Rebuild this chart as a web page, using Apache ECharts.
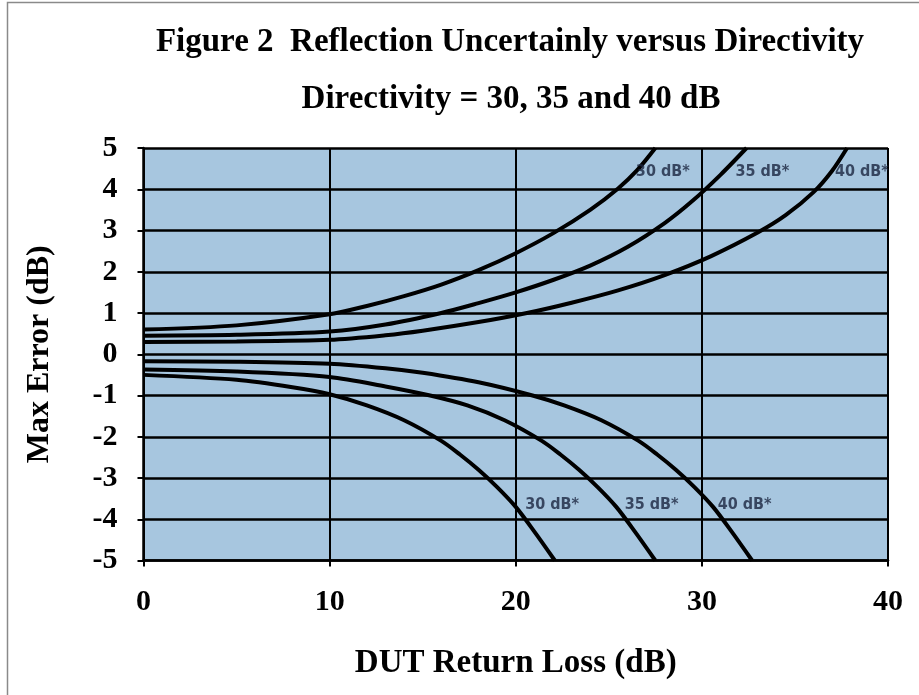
<!DOCTYPE html>
<html>
<head>
<meta charset="utf-8">
<script src="https://cdn.jsdelivr.net/npm/echarts@6/dist/echarts.min.js"></script>
<style>
  html, body { margin: 0; padding: 0; background: #fff; }
  #chart { width: 919px; height: 695px; }
</style>
</head>
<body>
<div id="chart"></div>
<script>
// curves: [DUT return loss, max error]
var upper30 = [[0, 0.6], [5, 0.7], [10, 0.97], [12, 1.17], [14, 1.41], [16, 1.69], [18, 2.04], [20, 2.45], [22, 2.93], [24, 3.5], [25.5, 4.02], [26.5, 4.45], [27.5, 5]];
var upper35 = [[0, 0.45], [5, 0.47], [10, 0.55], [13, 0.72], [16, 1], [18, 1.24], [20, 1.5], [22, 1.8], [24, 2.15], [26, 2.6], [28, 3.18], [29.5, 3.72], [31, 4.35], [32.4, 5]];
var upper40 = [[0, 0.3], [5, 0.31], [10, 0.35], [13, 0.46], [15, 0.57], [18, 0.78], [20.6, 1], [23, 1.25], [25.5, 1.55], [28, 1.92], [30.5, 2.38], [33, 2.95], [34.5, 3.37], [36, 3.93], [37, 4.45], [37.8, 5]];
var lower30 = [[0, -0.5], [5, -0.62], [8, -0.8], [10, -0.97], [12, -1.24], [14, -1.6], [16, -2.1], [17, -2.43], [18, -2.8], [19, -3.22], [20, -3.7], [21, -4.3], [22.1, -5]];
var lower35 = [[0, -0.37], [5, -0.42], [10, -0.55], [13, -0.78], [15.4, -1], [17.4, -1.24], [19.4, -1.6], [21.4, -2.1], [22.4, -2.43], [23.4, -2.8], [24.4, -3.22], [25.4, -3.7], [26.4, -4.3], [27.5, -5]];
var lower40 = [[0, -0.17], [5, -0.18], [10, -0.23], [13, -0.34], [15, -0.45], [18, -0.68], [20.9, -1], [22.6, -1.24], [24.6, -1.6], [26.6, -2.1], [27.6, -2.43], [28.6, -2.8], [29.6, -3.22], [30.6, -3.7], [31.6, -4.3], [32.7, -5]];

var curveNames = ["30 dB*", "35 dB*", "40 dB*", "30 dB*", "35 dB*", "40 dB*"];
var labelX = [27.9, 33.25, 38.6, 21.95, 27.3, 32.3];
var labelY = [4.42, 4.42, 4.42, -3.65, -3.65, -3.65];

var chart = echarts.init(document.getElementById("chart"));

var serif = "'Liberation Serif', 'DejaVu Serif', serif";
var narrow = "'DejaVu Sans Condensed', 'Liberation Sans Narrow', Roboto, sans-serif";

function curve(name, data) {
  return {
    name: name,
    type: "line",
    data: data,
    smooth: 0.3,
    showSymbol: false,
    symbol: "none",
    lineStyle: { color: "#000", width: 4 },
    z: 3
  };
}

var labelData = curveNames.map(function (n, i) {
  return { name: n, value: [labelX[i], labelY[i]] };
});

var option = {
  animation: false,
  backgroundColor: "#fff",
  title: [
    {
      text: "Figure 2  Reflection Uncertainly versus Directivity",
      left: 505,
      top: 21,
      textAlign: "center",
      textStyle: { fontFamily: serif, fontWeight: "bold", fontSize: 33, color: "#000" }
    },
    {
      text: "Directivity = 30, 35 and 40 dB",
      left: 506,
      top: 78,
      textAlign: "center",
      textStyle: { fontFamily: serif, fontWeight: "bold", fontSize: 33, color: "#000" }
    }
  ],
  graphic: [
    {
      type: "rect",
      shape: { x: 7.5, y: 2.5, width: 1000, height: 1000 },
      style: { fill: "none", stroke: "#8a8a8a", lineWidth: 1.5 },
      silent: true
    }
  ],
  grid: {
    left: 143.5,
    top: 148,
    right: 31,
    bottom: 134.5,
    show: true,
    backgroundColor: "#a7c6df",
    borderWidth: 0
  },
  xAxis: {
    type: "value",
    min: 0,
    max: 40,
    interval: 10,
    name: "DUT Return Loss (dB)",
    nameLocation: "middle",
    nameGap: 86,
    nameTextStyle: { fontFamily: serif, fontWeight: "bold", fontSize: 33, color: "#000" },
    axisLine: { show: true, onZero: false, lineStyle: { color: "#000", width: 2.5 } },
    axisTick: { show: true, length: 6, lineStyle: { color: "#000", width: 2 } },
    axisLabel: { margin: 27, fontFamily: serif, fontWeight: "bold", fontSize: 30, color: "#000" },
    splitLine: { show: true, lineStyle: { color: "#000", width: 2 } }
  },
  yAxis: {
    type: "value",
    min: -5,
    max: 5,
    interval: 1,
    name: "Max Error (dB)",
    nameLocation: "middle",
    nameRotate: 90,
    nameGap: 88,
    nameTextStyle: { fontFamily: serif, fontWeight: "bold", fontSize: 32, color: "#000" },
    axisLine: { show: true, onZero: false, lineStyle: { color: "#000", width: 2.5 } },
    axisTick: { show: true, length: 6, lineStyle: { color: "#000", width: 2 } },
    axisLabel: { margin: 26, fontFamily: serif, fontWeight: "bold", fontSize: 30, color: "#000" },
    splitLine: { show: true, lineStyle: { color: "#000", width: 2.5 } }
  },
  series: [
    curve("30 dB upper", upper30),
    curve("35 dB upper", upper35),
    curve("40 dB upper", upper40),
    curve("30 dB lower", lower30),
    curve("35 dB lower", lower35),
    curve("40 dB lower", lower40),
    {
      name: "labels",
      type: "scatter",
      data: labelData,
      symbolSize: 0,
      z: 4,
      label: {
        show: true,
        position: "inside",
        formatter: "{b}",
        fontFamily: narrow,
        fontWeight: "bold",
        fontSize: 16,
        color: "#1b2640"
      }
    }
  ]
};

chart.setOption(option);
</script>
</body>
</html>
